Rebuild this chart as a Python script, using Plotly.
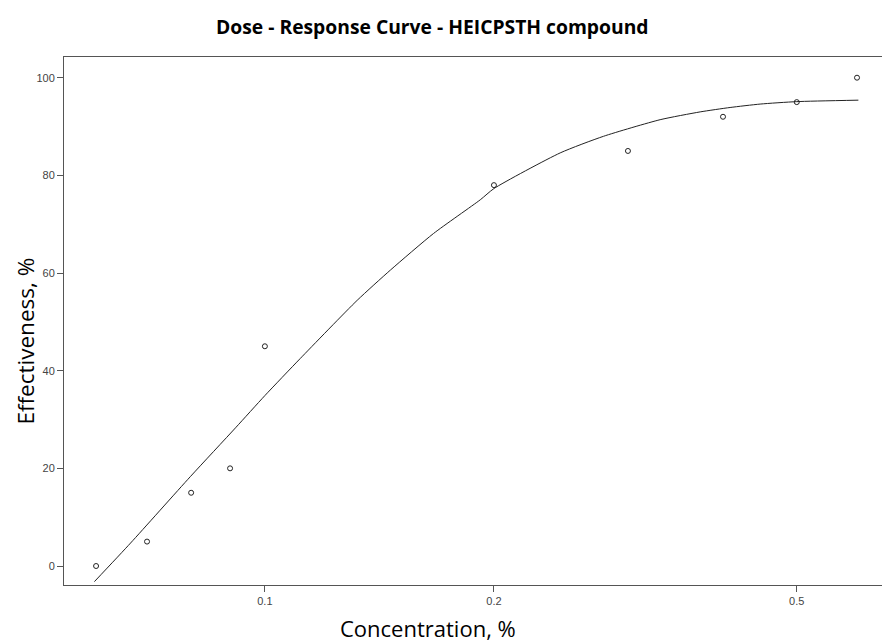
import plotly.graph_objects as go

# Observed data points
concentration = [0.06, 0.07, 0.08, 0.09, 0.1, 0.2, 0.3, 0.4, 0.5, 0.6]
effectiveness = [0, 5, 15, 20, 45, 78, 85, 92, 95, 100]

# Fitted curve
curve_conc = [0.0597, 0.0666, 0.0798, 0.0915, 0.1, 0.1113, 0.1322, 0.1462, 0.1666,
              0.1919, 0.2, 0.2444, 0.2786, 0.3307, 0.3733, 0.4087, 0.4476, 0.5, 0.6025]
curve_eff = [-3.2, 4.7, 18.3, 28.3, 34.9, 42.5, 54.4, 60.6, 68.1,
             75.0, 77.3, 84.6, 88.0, 91.4, 93.0, 93.9, 94.6, 95.1, 95.4]

x_ticks = [0.1, 0.2, 0.5]
x_tick_labels = ["0.1", "0.2", "0.5"]
y_ticks = [0, 20, 40, 60, 80, 100]

W, H = 882, 643
L, R, T, B = 63.5, 0, 57, 58
pw = W - L - R
ph = H - T - B

fig = go.Figure()
fig.add_trace(go.Scatter(x=curve_conc, y=curve_eff, mode="lines",
                         line=dict(color="#222222", width=1, shape="spline", smoothing=0.6),
                         hoverinfo="skip", showlegend=False))
fig.add_trace(go.Scatter(x=concentration, y=effectiveness, mode="markers",
                         marker=dict(symbol="circle-open", size=5, color="#222222",
                                     line=dict(color="#222222", width=1)),
                         showlegend=False))

axis_common = dict(showgrid=False, zeroline=False, showline=True, mirror=True,
                   linecolor="#555555", linewidth=1, ticks="outside", ticklen=6,
                   tickcolor="#555555", tickwidth=1,
                   tickfont=dict(family="Liberation Sans, Arial", size=11, color="#444444"))

fig.update_layout(
    width=W, height=H,
    margin=dict(l=L, r=R, t=T, b=B, pad=0),
    paper_bgcolor="white", plot_bgcolor="white",
    xaxis=dict(type="log", range=[-1.264, -0.189], tickvals=x_ticks,
               ticktext=x_tick_labels, **axis_common),
    yaxis=dict(range=[-3.89, 104.24], tickvals=y_ticks, **axis_common),
    annotations=[
        dict(text="<b>Dose - Response Curve - HEICPSTH compound</b>",
             xref="paper", yref="paper",
             x=(432.5 - L) / pw, y=(H - B - 27) / ph,
             xanchor="center", yanchor="middle", showarrow=False,
             font=dict(family="Open Sans", size=19.3, color="black")),
        dict(text="Concentration, %", xref="paper", yref="paper",
             x=(427.5 - L) / pw, y=(H - B - 628) / ph,
             xanchor="center", yanchor="middle", showarrow=False,
             font=dict(family="Open Sans", size=22, color="black")),
        dict(text="Effectiveness, %", xref="paper", yref="paper",
             x=(24 - L) / pw, y=(H - B - 341) / ph, textangle=-90,
             xanchor="center", yanchor="middle", showarrow=False,
             font=dict(family="Open Sans", size=22.5, color="black")),
    ],
)

fig.write_html("out.html", config={"displayModeBar": False},
               post_script="document.body.style.margin='0';document.body.style.overflow='hidden';")
